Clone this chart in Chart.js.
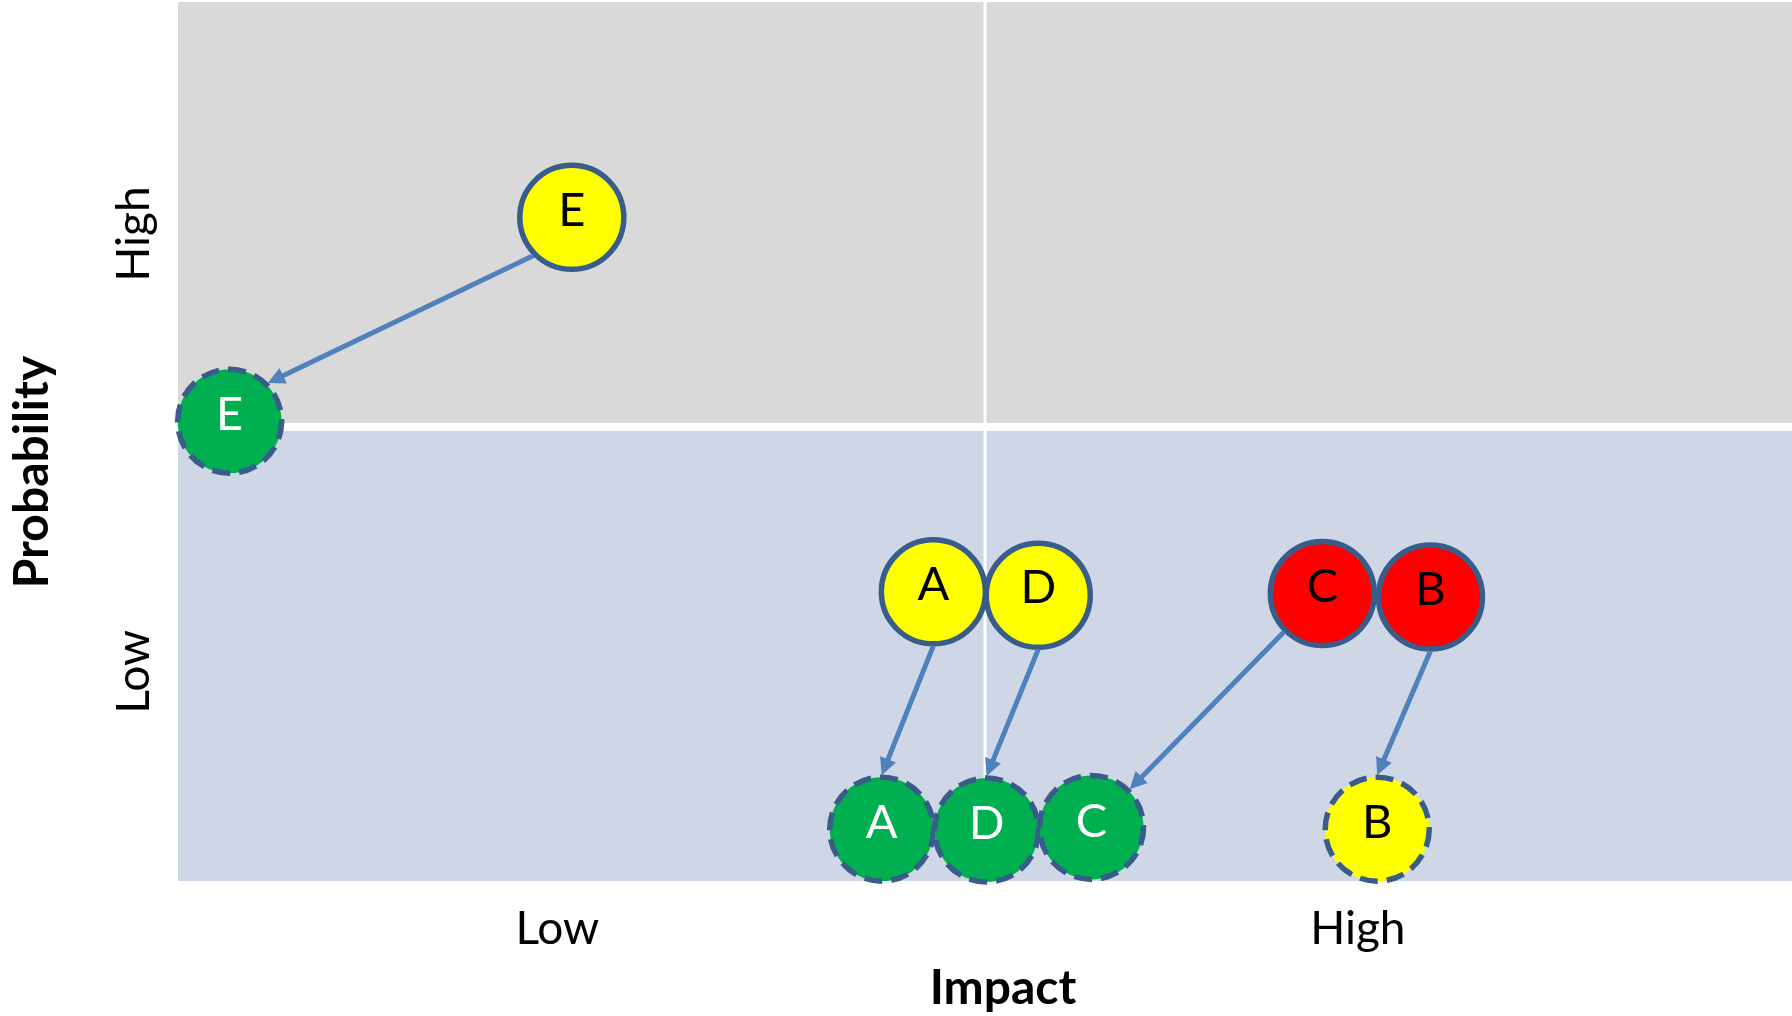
<!DOCTYPE html>
<html>
<head>
<meta charset="utf-8">
<script src="https://cdn.jsdelivr.net/npm/chart.js@4.4.0/dist/chart.umd.min.js"></script>
<style>
body { margin: 0; background: #ffffff; }
#wrap { position: relative; width: 1792px; height: 1016px; }
</style>
</head>
<body>
<div id="wrap"><canvas id="risk_chart"></canvas></div>
<script>
// risks before and after mitigation (0-100 on both axes)
var riskLabels = ['E', 'A', 'D', 'C', 'B'];
var beforeX = [24.4, 46.8, 53.3, 70.9, 77.6];
var beforeY = [75.5, 32.9, 32.5, 32.7, 32.3];
var beforeColors = ['#ffff00', '#ffff00', '#ffff00', '#ff0000', '#ff0000'];
var beforeText = ['#000000', '#000000', '#000000', '#000000', '#000000'];
var afterX = [3.2, 43.6, 50.1, 56.6, 74.3];
var afterY = [52.3, 5.9, 5.8, 6.1, 5.9];
var afterColors = ['#00b050', '#00b050', '#00b050', '#00b050', '#ffff00'];
var afterText = ['#ffffff', '#ffffff', '#ffffff', '#ffffff', '#000000'];

// where each arrow leaves the old circle and meets the new one
var fromSite = ['bottomLeft', 'bottom', 'bottom', 'bottomLeft', 'bottom'];
var toSite = ['topRight', 'top', 'top', 'topRight', 'top'];

var xTickValues = [23.5, 73.1];
var xTickLabels = ['Low', 'High'];
var yTickValues = [23.8, 73.6];
var yTickLabels = ['Low', 'High'];
var xSplit = 50;
var ySplit = 51.65;

var fontFamily = 'Lato, "Open Sans", sans-serif';
var bubbleRadius = 52;
var bubbleBorder = 5.5;

var siteDir = {
    top: [0, -1],
    bottom: [0, 1],
    topRight: [0.7071, -0.7071],
    bottomLeft: [-0.7071, 0.7071]
};

var makePoints = function (xs, ys) {
    return xs.map(function (v, i) {
        return {x: v, y: ys[i]};
    });
};

var quadrantBg = {
    id: 'quadrantBg',
    beforeDatasetsDraw: function (chart) {
        var ctx = chart.ctx;
        var area = chart.chartArea;
        var midX = chart.scales.x.getPixelForValue(xSplit);
        var midY = chart.scales.y.getPixelForValue(ySplit);
        ctx.save();
        ctx.fillStyle = '#d9d9d9';
        ctx.fillRect(area.left, area.top, area.right - area.left, midY - 4 - area.top);
        ctx.fillStyle = '#cfd7e7';
        ctx.fillRect(area.left, midY + 4, area.right - area.left, area.bottom - midY - 4);
        ctx.fillStyle = '#ffffff';
        ctx.fillRect(midX - 1.5, area.top, 3, area.bottom - area.top);
        ctx.restore();
    }
};

var dashedAfter = {
    id: 'dashedAfter',
    beforeDatasetDraw: function (chart, args) {
        chart.ctx.save();
        if (args.index === 1) {
            chart.ctx.setLineDash([18, 9]);
        }
    },
    afterDatasetDraw: function (chart) {
        chart.ctx.restore();
    }
};

var arrowsAndLetters = {
    id: 'arrowsAndLetters',
    afterDatasetsDraw: function (chart) {
        var ctx = chart.ctx;
        var before = chart.getDatasetMeta(0).data;
        var after = chart.getDatasetMeta(1).data;
        var edge = bubbleRadius + 2;
        var headLen = 17, headHalf = 8.5;
        ctx.save();
        ctx.strokeStyle = '#4f81bd';
        ctx.fillStyle = '#4f81bd';
        ctx.lineWidth = 5;
        for (var i = 0; i < riskLabels.length; i++) {
            var fd = siteDir[fromSite[i]], td = siteDir[toSite[i]];
            var x1 = before[i].x + fd[0] * edge, y1 = before[i].y + fd[1] * edge;
            var x2 = after[i].x + td[0] * edge, y2 = after[i].y + td[1] * edge;
            var ang = Math.atan2(y2 - y1, x2 - x1);
            var hx = x2 - Math.cos(ang) * headLen, hy = y2 - Math.sin(ang) * headLen;
            ctx.beginPath();
            ctx.moveTo(x1, y1);
            ctx.lineTo(hx + Math.cos(ang) * 2, hy + Math.sin(ang) * 2);
            ctx.stroke();
            ctx.beginPath();
            ctx.moveTo(x2, y2);
            ctx.lineTo(hx - Math.sin(ang) * headHalf, hy + Math.cos(ang) * headHalf);
            ctx.lineTo(hx + Math.sin(ang) * headHalf, hy - Math.cos(ang) * headHalf);
            ctx.closePath();
            ctx.fill();
        }
        ctx.font = '47px ' + fontFamily;
        ctx.textAlign = 'center';
        ctx.textBaseline = 'middle';
        for (var j = 0; j < riskLabels.length; j++) {
            ctx.fillStyle = beforeText[j];
            ctx.fillText(riskLabels[j], before[j].x, before[j].y - 7);
            ctx.fillStyle = afterText[j];
            ctx.fillText(riskLabels[j], after[j].x, after[j].y - 6);
        }
        ctx.restore();
    }
};

var axisTitles = {
    id: 'axisTitles',
    afterDraw: function (chart) {
        var ctx = chart.ctx;
        ctx.save();
        ctx.fillStyle = '#000000';
        ctx.font = 'bold 48px ' + fontFamily;
        ctx.textAlign = 'center';
        ctx.textBaseline = 'middle';
        ctx.fillText('Impact', 1003, 989);
        ctx.translate(33, 472);
        ctx.rotate(-Math.PI / 2);
        ctx.fillText('Probability', 0, 0);
        ctx.restore();
    }
};

var ctx_risk = document.getElementById('risk_chart');
var risk_g = new Chart(ctx_risk, {
    type: 'bubble',
    data: {
        datasets: [{
            label: 'Before',
            data: makePoints(beforeX, beforeY),
            backgroundColor: beforeColors,
            borderColor: '#385d8a',
            borderWidth: bubbleBorder,
            radius: bubbleRadius,
            clip: false
        }, {
            label: 'After',
            data: makePoints(afterX, afterY),
            backgroundColor: afterColors,
            borderColor: '#385d8a',
            borderWidth: bubbleBorder,
            radius: bubbleRadius,
            clip: false
        }]
    },
    options: {
        responsive: true,
        maintainAspectRatio: false,
        animation: false,
        events: [],
        layout: {autoPadding: false, padding: {top: 2, left: 0, right: 0, bottom: 0}},
        plugins: {
            legend: {display: false},
            tooltip: {enabled: false}
        },
        scales: {
            x: {
                type: 'linear',
                min: 0,
                max: 100,
                grid: {display: false, drawTicks: false},
                border: {display: false},
                afterBuildTicks: function (scale) {
                    scale.ticks = xTickValues.map(function (v) { return {value: v}; });
                },
                afterFit: function (scale) {
                    scale.height = 135;
                    scale.paddingLeft = 0;
                    scale.paddingRight = 0;
                },
                ticks: {
                    autoSkip: false,
                    maxRotation: 0,
                    padding: 21,
                    color: '#000000',
                    font: {family: fontFamily, size: 46},
                    callback: function (value) {
                        return xTickLabels[xTickValues.indexOf(value)];
                    }
                }
            },
            y: {
                type: 'linear',
                min: 0,
                max: 100,
                grid: {display: false, drawTicks: false},
                border: {display: false},
                afterBuildTicks: function (scale) {
                    scale.ticks = yTickValues.map(function (v) { return {value: v}; });
                },
                afterFit: function (scale) {
                    scale.width = 178;
                    scale.paddingTop = 0;
                    scale.paddingBottom = 0;
                },
                ticks: {
                    autoSkip: false,
                    minRotation: 90,
                    maxRotation: 90,
                    crossAlign: 'center',
                    padding: -4,
                    color: '#000000',
                    font: {family: fontFamily, size: 46},
                    callback: function (value) {
                        return yTickLabels[yTickValues.indexOf(value)];
                    }
                }
            }
        }
    },
    plugins: [quadrantBg, dashedAfter, arrowsAndLetters, axisTitles]
});
</script>
</body>
</html>
